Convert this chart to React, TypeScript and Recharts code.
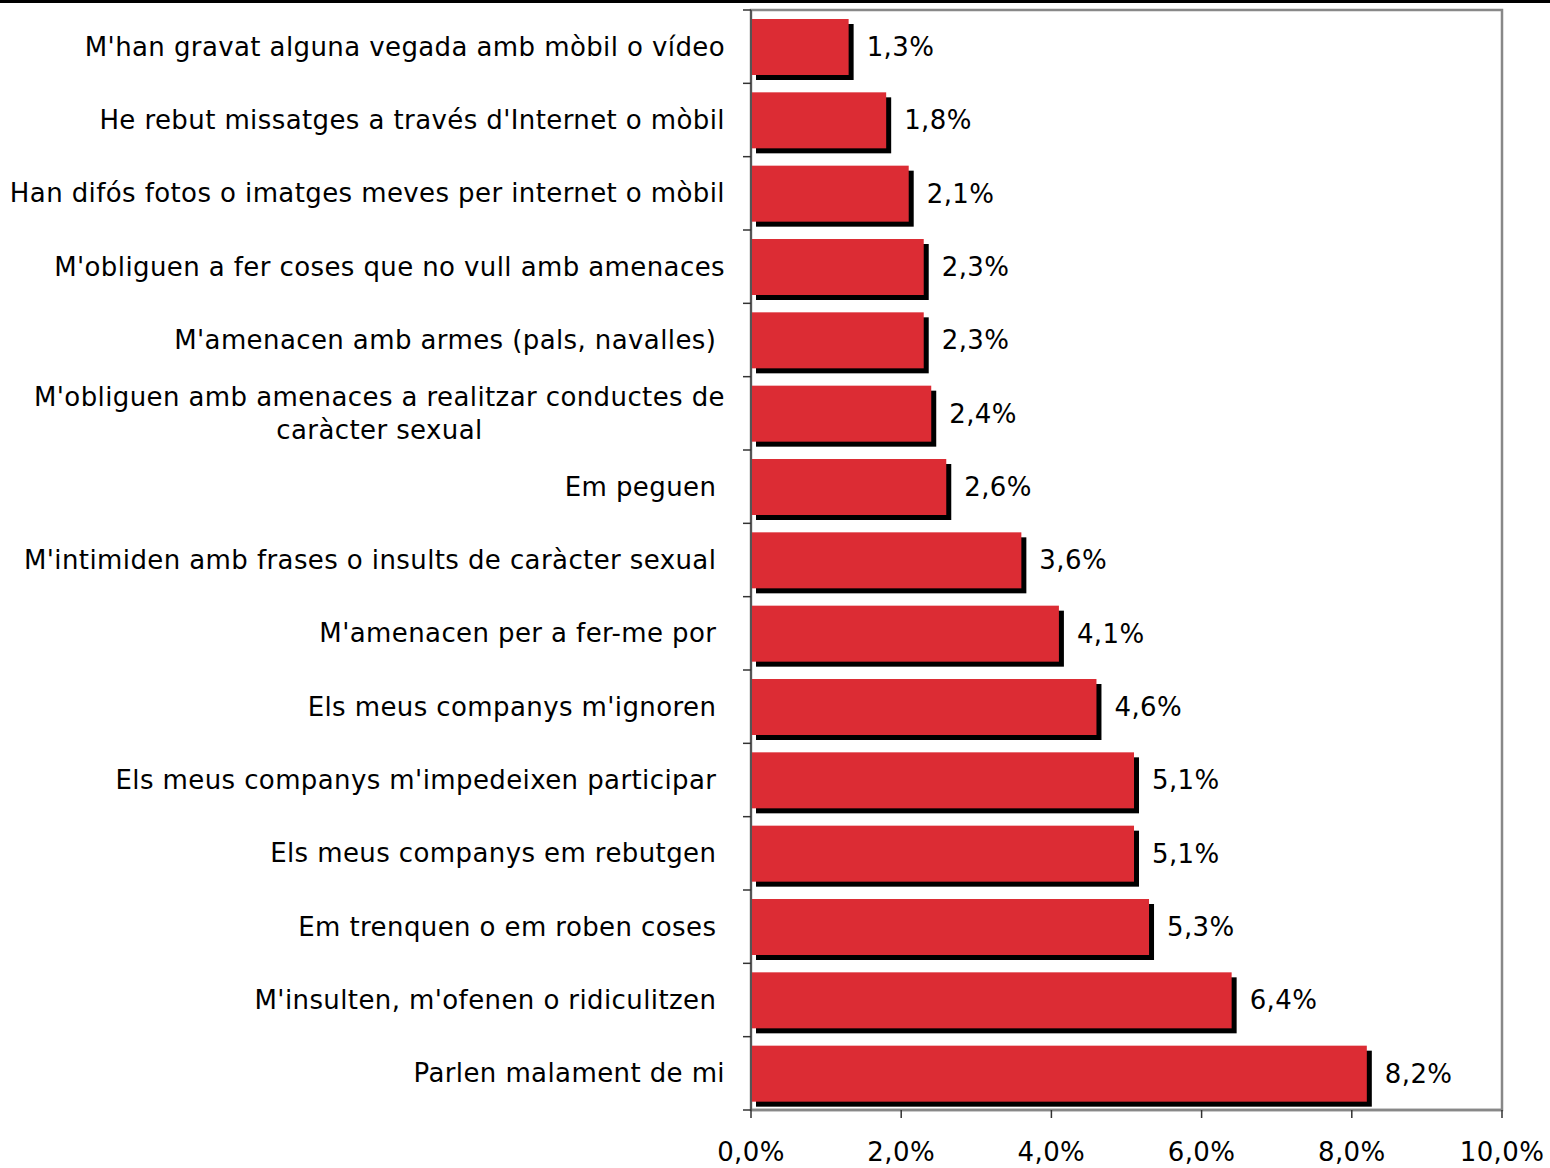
import { BarChart, Bar, XAxis, YAxis, ReferenceArea, LabelList } from "recharts";

const categories = [
  "M'han gravat alguna vegada amb mòbil o vídeo",
  "He rebut missatges a través d'Internet o mòbil",
  "Han difós fotos o imatges meves per internet o mòbil",
  "M'obliguen a fer coses que no vull amb amenaces",
  "M'amenacen amb armes (pals, navalles) ",
  "M'obliguen amb amenaces a realitzar conductes de\ncaràcter sexual",
  "Em peguen ",
  "M'intimiden amb frases o insults de caràcter sexual ",
  "M'amenacen per a fer-me por ",
  "Els meus companys m'ignoren ",
  "Els meus companys m'impedeixen participar ",
  "Els meus companys em rebutgen ",
  "Em trenquen o em roben coses ",
  "M'insulten, m'ofenen o ridiculitzen ",
  "Parlen malament de mi",
];

const values = [1.3, 1.8, 2.1, 2.3, 2.3, 2.4, 2.6, 3.6, 4.1, 4.6, 5.1, 5.1, 5.3, 6.4, 8.2];

const xTicks = [0, 2, 4, 6, 8, 10];

const W = 1550;
const H = 1168;
const PLOT_LEFT = 751;
const PLOT_TOP = 10;
const PLOT_BOTTOM = 1110;
const BAND = (PLOT_BOTTOM - PLOT_TOP) / categories.length;
const FONT = "'DejaVu Sans', Verdana, sans-serif";
const FONT_SIZE = 26;
const LS = 0.4; // a bit of tracking, Verdana is wider than DejaVu
const RED = "#DC2C34";

const data = categories.map((name, i) => ({ name, value: values[i] }));

const pct = (v: number) => v.toFixed(1).replace(".", ",") + "%";

const textStyle = { whiteSpace: "pre" as const, letterSpacing: LS };

let ctx: CanvasRenderingContext2D | null = null;
function textWidth(t: string) {
  if (!ctx) ctx = document.createElement("canvas").getContext("2d");
  if (!ctx) return t.length * FONT_SIZE * 0.6;
  ctx.font = `${FONT_SIZE}px ${FONT}`;
  return ctx.measureText(t).width + t.length * LS;
}

function CategoryTick(props: any) {
  const { y, payload } = props;
  const label = String(payload.value);
  const lines = label.split("\n");
  const right = PLOT_LEFT - 26;
  const isLast = label === categories[categories.length - 1];
  let textEl;
  if (lines.length === 1) {
    textEl = (
      <text x={right} y={y} textAnchor="end" dominantBaseline="central" fill="#000"
        fontSize={FONT_SIZE} fontFamily={FONT} style={textStyle}>
        {label}
      </text>
    );
  } else {
    // centred block, right edge on the label column
    const w = Math.max(...lines.map(textWidth));
    const cx = right - w / 2;
    const lh = 33;
    textEl = (
      <text textAnchor="middle" fill="#000" fontSize={FONT_SIZE} fontFamily={FONT} style={textStyle}>
        {lines.map((l, i) => (
          <tspan key={i} x={cx} y={y + (i - (lines.length - 1) / 2) * lh} dominantBaseline="central">
            {l}
          </tspan>
        ))}
      </text>
    );
  }
  return (
    <g>
      <line x1={PLOT_LEFT - 8} x2={PLOT_LEFT} y1={y - BAND / 2} y2={y - BAND / 2} stroke="#333" strokeWidth={1.5} />
      {isLast && (
        <line x1={PLOT_LEFT - 8} x2={PLOT_LEFT} y1={y + BAND / 2} y2={y + BAND / 2} stroke="#333" strokeWidth={1.5} />
      )}
      {textEl}
    </g>
  );
}

function ValueTick(props: any) {
  const { x, payload } = props;
  return (
    <text x={x} y={1152} textAnchor="middle" dominantBaseline="central" fill="#000"
      fontSize={FONT_SIZE} fontFamily={FONT} style={textStyle}>
      {pct(payload.value)}
    </text>
  );
}

function ShadowBar(props: any) {
  const { x, y, width, height } = props;
  if (width <= 0) return null;
  return (
    <g>
      <rect x={x + 5} y={y + 5} width={width} height={height} fill="#000" />
      <rect x={x + 1} y={y} width={width - 1} height={height} fill={RED} />
    </g>
  );
}

function ValueLabel(props: any) {
  const { x, y, width, height, value } = props;
  return (
    <text x={x + width + 18} y={y + height / 2} dominantBaseline="central" fill="#000"
      fontSize={FONT_SIZE} fontFamily={FONT} style={textStyle}>
      {pct(Number(value))}
    </text>
  );
}

export default function App() {
  return (
    <div style={{ position: "relative", width: W, height: H, background: "#fff" }}>
      <style>{"body{margin:0;background:#fff}"}</style>
      <BarChart
        width={W}
        height={H}
        data={data}
        layout="vertical"
        margin={{ top: PLOT_TOP, right: W - 1502, bottom: 0, left: 0 }}
      >
        <ReferenceArea x1={0} x2={10} fill="none" stroke="#888" strokeWidth={2.5} ifOverflow="visible" />
        <XAxis
          type="number"
          domain={[0, 10]}
          ticks={xTicks}
          height={H - PLOT_BOTTOM}
          axisLine={{ stroke: "#888", strokeWidth: 2.5 }}
          tickLine={{ stroke: "#333", strokeWidth: 1.5 }}
          tickSize={8}
          tick={<ValueTick />}
          interval={0}
        />
        <YAxis
          type="category"
          dataKey="name"
          width={PLOT_LEFT}
          axisLine={{ stroke: "#444", strokeWidth: 1.5 }}
          tickLine={false}
          tick={<CategoryTick />}
          interval={0}
        />
        <Bar dataKey="value" barSize={56} shape={<ShadowBar />} isAnimationActive={false}>
          <LabelList dataKey="value" content={<ValueLabel />} />
        </Bar>
      </BarChart>
      <div style={{ position: "absolute", left: 0, top: 0, width: W, height: 3, background: "#000" }} />
    </div>
  );
}
